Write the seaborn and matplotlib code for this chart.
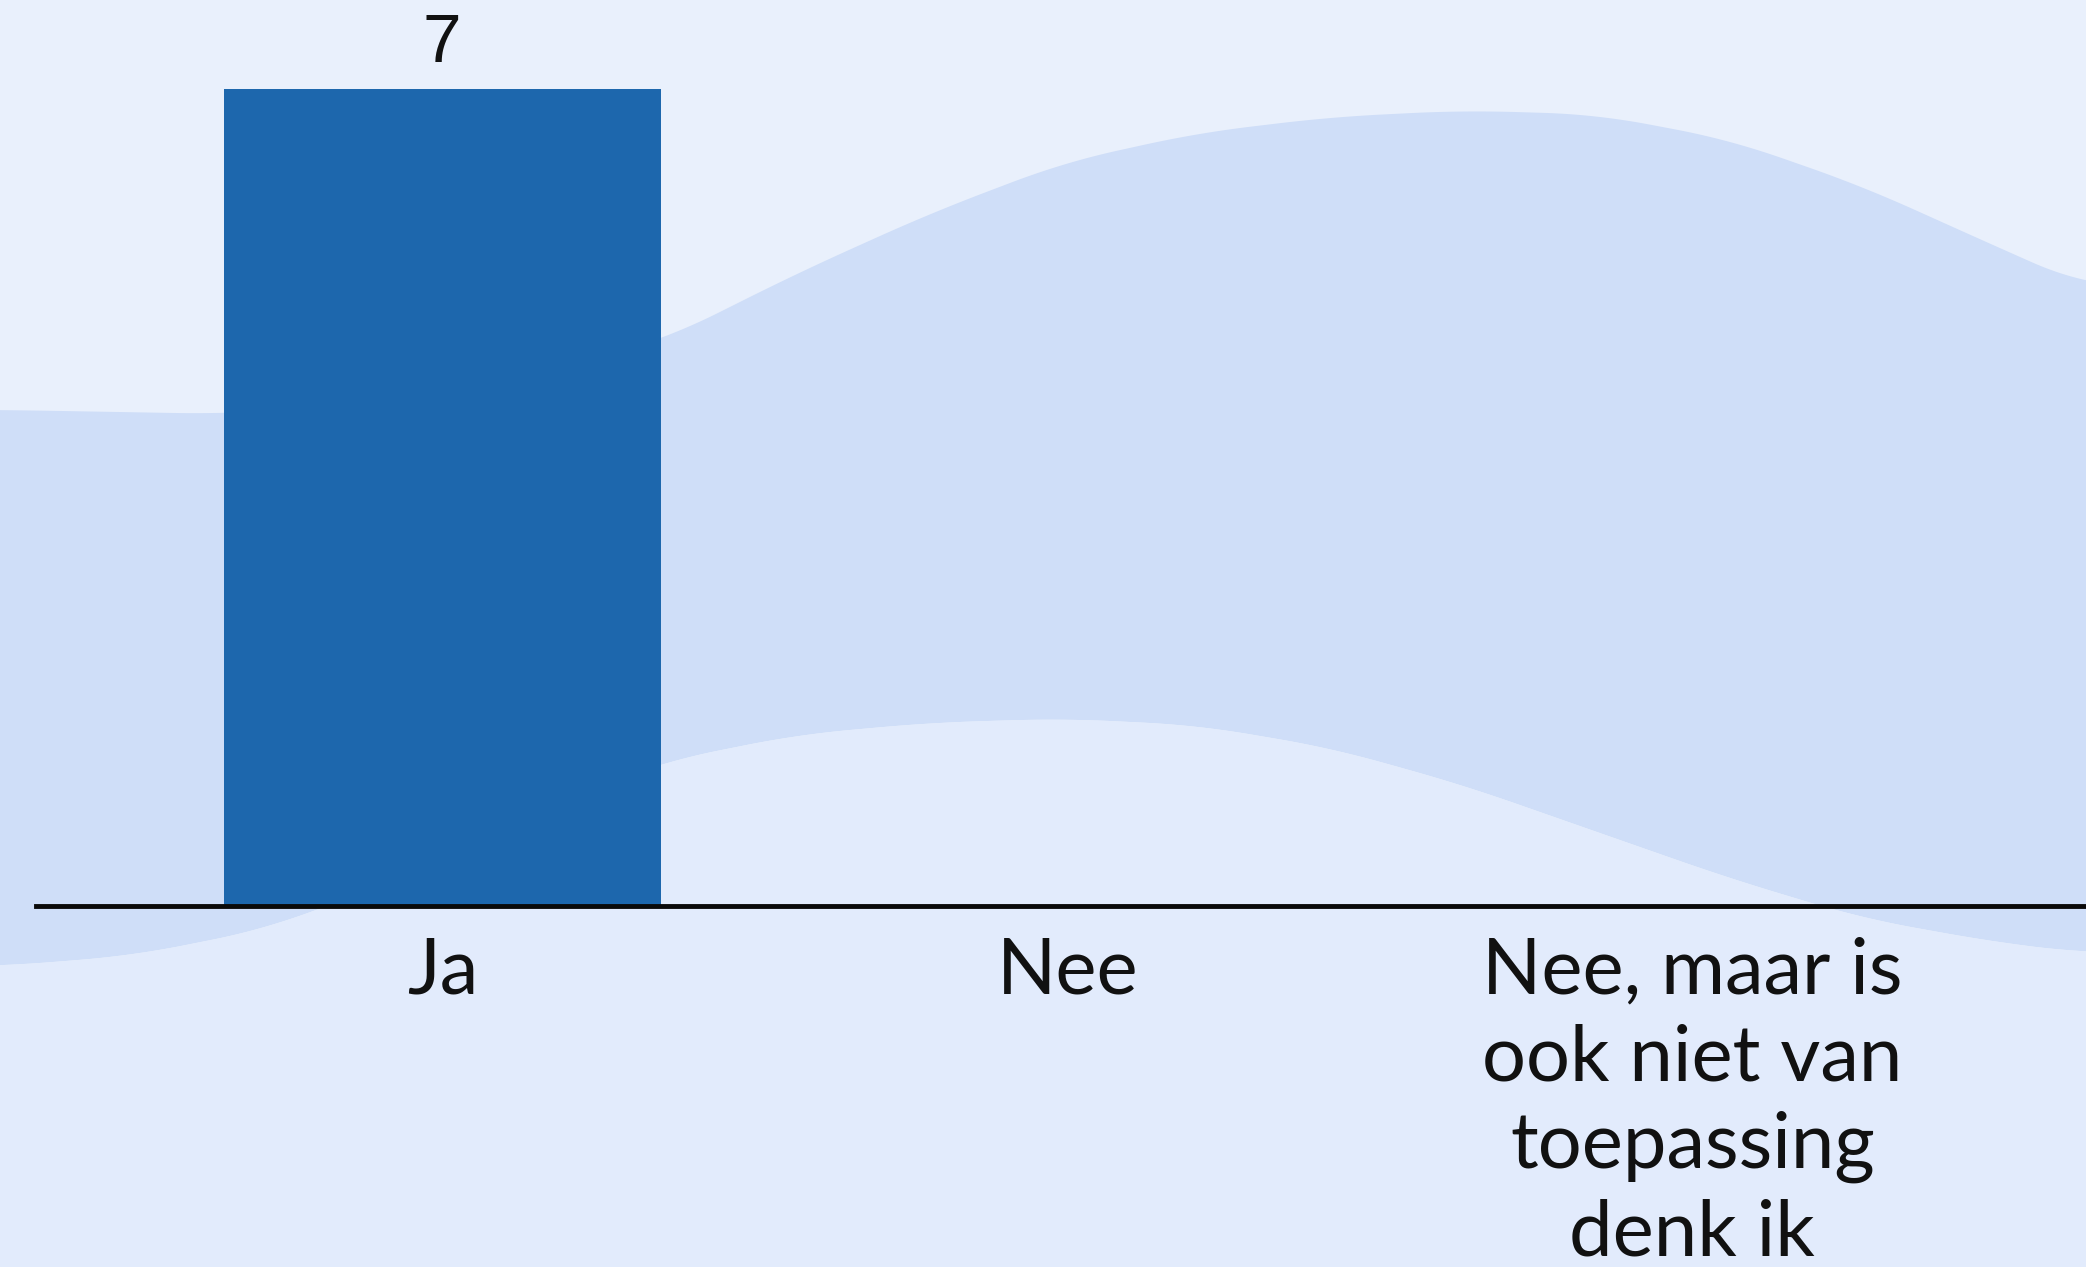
import numpy as np
import pandas as pd
import matplotlib
matplotlib.use('Agg')
import matplotlib.pyplot as plt
import seaborn as sns

# Data
categories = ['Ja', 'Nee', 'Nee, maar is\nook niet van\ntoepassing\ndenk ik']
counts = [7, 0, 0]

df = pd.DataFrame({'answer': categories, 'count': counts})

# Decorative background waves (figure pixel coords, shrunk 1568x952 space)
top_wave_x = [0, 170, 330, 500, 600, 700, 800, 900, 1000, 1100, 1200, 1300, 1400, 1500, 1568]
top_wave_y = [308, 311, 300, 255, 205, 160, 122, 100, 88, 83, 86, 105, 140, 185, 215]
low_wave_x = [0, 100, 200, 300, 400, 500, 600, 700, 800, 900, 1000, 1100, 1200, 1300, 1400, 1500, 1568]
low_wave_y = [726, 718, 698, 660, 610, 572, 552, 543, 540, 545, 562, 590, 625, 660, 690, 708, 716]


def smooth(xs, ys):
    xx = np.linspace(0, 1568, 1569)
    yy = np.interp(xx, xs, ys)
    k = 81
    pad = np.pad(yy, k // 2, mode='edge')
    yy = np.convolve(pad, np.ones(k) / k, mode='valid')
    return xx, yy


fig = plt.figure(figsize=(20.86, 12.67), dpi=100)
fig.patch.set_facecolor('#E9F0FC')

bg = fig.add_axes([0, 0, 1, 1], zorder=0)
bg.set_xlim(0, 1568)
bg.set_ylim(952, 0)
bg.axis('off')
xt, yt = smooth(top_wave_x, top_wave_y)
xl, yl = smooth(low_wave_x, low_wave_y)
bg.fill_between(xt, yt, yl, color='#CFDEF8', lw=0)
bg.fill_between(xl, yl, 952, color='#E2EBFC', lw=0)

# Main chart
ax = fig.add_axes([36 / 2086, (1267 - 906) / 1267, 1 - 36 / 2086, 906 / 1267], zorder=1)
ax.patch.set_alpha(0)
sns.barplot(data=df, x='answer', y='count', color='#1D67AD', saturation=1,
            width=0.7, ax=ax)

ax.bar_label(ax.containers[0], labels=[str(c) if c else '' for c in counts],
             padding=9, fontsize=50, family='Liberation Sans', color='#111111')

ax.set_xlim(-0.65, 2.63)
ax.set_ylim(0, 7.76)
ax.set_xlabel('')
ax.set_ylabel('')
ax.set_yticks([])
for side in ['top', 'right', 'left']:
    ax.spines[side].set_visible(False)
ax.spines['bottom'].set_linewidth(3.5)
ax.spines['bottom'].set_color('#0a0a0a')
ax.tick_params(axis='x', length=0, pad=22)
for lab in ax.get_xticklabels():
    lab.set_fontsize(56)
    lab.set_family('Lato')
    lab.set_linespacing(1.28)
    lab.set_color('#111111')

plt.savefig('out.png', dpi=100, facecolor=fig.get_facecolor())
plt.close()
